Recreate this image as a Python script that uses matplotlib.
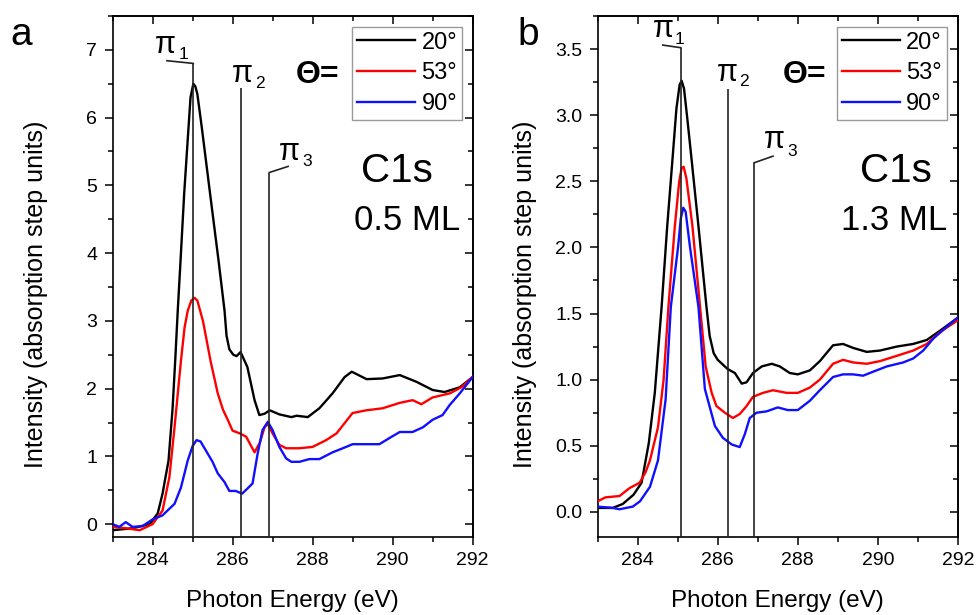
import matplotlib
matplotlib.use("Agg")
import matplotlib.pyplot as plt
from matplotlib.ticker import MultipleLocator

plt.rcParams['font.family'] = ['Liberation Sans', 'DejaVu Sans']

# ---------------- data: C1s NEXAFS, panel a (0.5 ML) ----------------
energy_a_20 = [283.0, 283.5, 283.93, 284.13, 284.25, 284.4, 284.5, 284.57, 284.63, 284.7,
               284.79, 284.9, 284.95, 285.02, 285.07, 285.12, 285.23, 285.44, 285.65, 285.8,
               285.85, 285.92, 286.02, 286.1, 286.2, 286.37, 286.55, 286.67, 286.8, 286.93,
               287.17, 287.47, 287.6, 287.88, 288.17, 288.5, 288.8, 288.98, 289.35, 289.75,
               290.18, 290.6, 291.0, 291.3, 291.68, 292.0]
int_a_20 = [-0.09, -0.06, 0.0, 0.16, 0.45, 0.94, 1.7, 2.45, 3.15, 3.89,
            4.87, 5.86, 6.3, 6.5, 6.46, 6.35, 5.86, 4.87, 3.89, 3.15,
            2.78, 2.58, 2.5, 2.48, 2.54, 2.32, 1.83, 1.61, 1.63, 1.68,
            1.62, 1.58, 1.6, 1.58, 1.71, 1.93, 2.17, 2.25, 2.14, 2.15,
            2.2, 2.1, 1.98, 1.95, 2.02, 2.17]

energy_a_53 = [283.0, 283.33, 283.68, 284.0, 284.25, 284.42, 284.55, 284.71, 284.8, 284.88,
               284.97, 285.05, 285.12, 285.26, 285.45, 285.63, 285.76, 285.88, 286.0, 286.18,
               286.34, 286.55, 286.68, 286.8, 286.88, 287.0, 287.17, 287.34, 287.67, 288.0,
               288.34, 288.6, 289.0, 289.34, 289.75, 290.18, 290.5, 290.72, 291.0, 291.43,
               291.72, 292.0]
int_a_53 = [-0.04, -0.06, -0.09, 0.0, 0.2, 0.69, 1.43, 2.41, 2.9, 3.15,
            3.3, 3.34, 3.3, 3.0, 2.41, 1.93, 1.69, 1.54, 1.38, 1.34,
            1.29, 1.06, 1.2, 1.43, 1.48, 1.34, 1.17, 1.12, 1.12, 1.14,
            1.24, 1.34, 1.64, 1.68, 1.71, 1.79, 1.83, 1.77, 1.87, 1.93,
            2.02, 2.17]

energy_a_90 = [283.0, 283.17, 283.33, 283.5, 283.75, 284.0, 284.25, 284.55, 284.71, 284.88,
               285.0, 285.1, 285.2, 285.38, 285.5, 285.63, 285.8, 285.92, 286.08, 286.24,
               286.38, 286.5, 286.63, 286.75, 286.88, 287.0, 287.17, 287.34, 287.47, 287.67,
               287.92, 288.17, 288.5, 288.84, 289.0, 289.34, 289.67, 289.92, 290.18, 290.5,
               290.76, 291.0, 291.25, 291.43, 291.68, 292.0]
int_a_90 = [0.0, -0.04, 0.03, -0.04, -0.03, 0.07, 0.13, 0.3, 0.54, 0.94,
            1.15, 1.24, 1.22, 1.04, 0.92, 0.75, 0.62, 0.49, 0.49, 0.45,
            0.53, 0.6, 1.05, 1.39, 1.51, 1.39, 1.14, 0.97, 0.92, 0.92,
            0.96, 0.96, 1.06, 1.14, 1.18, 1.18, 1.18, 1.27, 1.36, 1.36,
            1.43, 1.54, 1.61, 1.76, 1.93, 2.17]

# ---------------- data: C1s NEXAFS, panel b (1.3 ML) ----------------
energy_b_20 = [283.0, 283.38, 283.63, 283.9, 284.1, 284.28, 284.43, 284.6, 284.74, 284.87,
               284.97, 285.05, 285.1, 285.16, 285.25, 285.35, 285.52, 285.72, 285.8, 285.9,
               286.0, 286.25, 286.43, 286.6, 286.72, 286.88, 287.1, 287.35, 287.55, 287.8,
               288.0, 288.3, 288.55, 288.88, 289.13, 289.38, 289.72, 290.05, 290.47, 290.88,
               291.22, 291.55, 292.0]
int_b_20 = [0.03, 0.03, 0.06, 0.13, 0.22, 0.52, 0.9, 1.55, 2.16, 2.66,
            3.05, 3.23, 3.26, 3.2, 2.95, 2.66, 2.16, 1.55, 1.33, 1.2,
            1.15, 1.08, 1.05, 0.97, 0.98, 1.05, 1.1, 1.12, 1.1, 1.05,
            1.04, 1.07, 1.14, 1.26, 1.27, 1.24, 1.21, 1.22, 1.25, 1.27,
            1.3, 1.37, 1.47]

energy_b_53 = [283.0, 283.2, 283.55, 283.8, 284.05, 284.2, 284.31, 284.51, 284.65, 284.77,
               284.93, 285.04, 285.1, 285.15, 285.22, 285.37, 285.56, 285.7, 285.85, 285.97,
               286.18, 286.38, 286.55, 286.72, 286.88, 287.13, 287.38, 287.72, 288.0, 288.3,
               288.55, 288.88, 289.13, 289.38, 289.72, 290.05, 290.47, 290.88, 291.22, 291.55,
               292.0]
int_b_53 = [0.08, 0.11, 0.12, 0.18, 0.22, 0.3, 0.39, 0.64, 1.0, 1.55,
            2.16, 2.5, 2.6, 2.61, 2.52, 2.16, 1.55, 1.1, 0.9, 0.8,
            0.75, 0.71, 0.74, 0.8, 0.87, 0.9, 0.92, 0.9, 0.9, 0.94,
            1.0, 1.12, 1.15, 1.13, 1.12, 1.14, 1.18, 1.22, 1.27, 1.36,
            1.45]

energy_b_90 = [283.0, 283.38, 283.55, 283.88, 284.06, 284.31, 284.51, 284.7, 284.83, 285.01,
               285.08, 285.14, 285.2, 285.31, 285.52, 285.68, 285.93, 286.13, 286.35, 286.55,
               286.68, 286.8, 286.97, 287.22, 287.5, 287.75, 288.0, 288.3, 288.55, 288.88,
               289.13, 289.38, 289.63, 289.88, 290.22, 290.63, 290.88, 291.13, 291.38, 291.72,
               292.0]
int_b_90 = [0.04, 0.03, 0.02, 0.04, 0.08, 0.19, 0.39, 0.85, 1.55, 2.0,
            2.22, 2.3, 2.27, 2.0, 1.55, 0.93, 0.65, 0.56, 0.51, 0.49,
            0.59, 0.71, 0.75, 0.76, 0.79, 0.77, 0.77, 0.84, 0.92, 1.02,
            1.04, 1.04, 1.03, 1.06, 1.1, 1.13, 1.16, 1.22, 1.31, 1.4,
            1.47]

angle_labels = ["20°", "53°", "90°"]
curve_colors = ["black", "#ff0000", "#1010ff"]

# pi* resonance positions (eV) and marker line tops (intensity units)
pi_energy_a = [285.02, 286.22, 286.92]
pi_top_a = [6.80, 6.43, 5.19]
pi_energy_b = [285.08, 286.26, 286.91]
pi_top_b = [3.51, 3.20, 2.64]


def style_axes(ax, ymin, ymax, ymajor, yminor):
    ax.set_xlim(283, 292)
    ax.set_ylim(ymin, ymax)
    ax.xaxis.set_major_locator(MultipleLocator(2))
    ax.xaxis.set_minor_locator(MultipleLocator(1))
    ax.yaxis.set_major_locator(MultipleLocator(ymajor))
    ax.yaxis.set_minor_locator(MultipleLocator(yminor))
    for sp in ax.spines.values():
        sp.set_linewidth(1.2)
    ax.tick_params(which='both', direction='out', width=1.1, labelsize=14,
                   top=False, right=False, pad=5)
    ax.tick_params(which='major', length=6)
    ax.tick_params(which='minor', length=3.5)
    # mirrored inward ticks on the top and right axes
    sx = ax.secondary_xaxis('top')
    sx.xaxis.set_major_locator(MultipleLocator(2))
    sx.xaxis.set_minor_locator(MultipleLocator(1))
    sx.tick_params(which='both', direction='in', width=1.1, labeltop=False)
    sx.tick_params(which='major', length=6)
    sx.tick_params(which='minor', length=3.5)
    sx.spines['top'].set_linewidth(1.2)
    sy = ax.secondary_yaxis('right')
    sy.yaxis.set_major_locator(MultipleLocator(ymajor))
    sy.yaxis.set_minor_locator(MultipleLocator(yminor))
    sy.tick_params(which='both', direction='in', width=1.1, labelright=False)
    sy.tick_params(which='major', length=6)
    sy.tick_params(which='minor', length=3.5)
    sy.spines['right'].set_linewidth(1.2)
    ax.set_xlabel("Photon Energy (eV)", fontsize=17.5)
    ax.set_ylabel("Intensity (absorption step units)", fontsize=18)


fig = plt.figure(figsize=(9.76, 6.15), dpi=100)
ax_a = fig.add_axes([0.1153, 0.1268, 0.3689, 0.8472])
ax_b = fig.add_axes([0.6122, 0.1268, 0.3694, 0.8472])

style_axes(ax_a, -0.19, 7.5, 1, 0.5)
style_axes(ax_b, -0.19, 3.75, 0.5, 0.25)
ax_a.xaxis.set_label_coords(0.5, -0.102)
ax_b.xaxis.set_label_coords(0.5, -0.102)
ax_a.yaxis.set_label_coords(-0.179, 0.465)
ax_b.yaxis.set_label_coords(-0.168, 0.465)

series_a = [(energy_a_20, int_a_20), (energy_a_53, int_a_53), (energy_a_90, int_a_90)]
series_b = [(energy_b_20, int_b_20), (energy_b_53, int_b_53), (energy_b_90, int_b_90)]

for ax, series in ((ax_a, series_a), (ax_b, series_b)):
    for (e, i), c, lab in zip(series, curve_colors, angle_labels):
        ax.plot(e, i, color=c, lw=1.7, label=lab, zorder=3,
                solid_joinstyle='round')


def draw_markers(ax, energies, tops, ymin, lead1, lead3, txt_pos):
    """Vertical pi* marker lines, leader ticks and their labels."""
    for e, t in zip(energies, tops):
        ax.plot([e, e], [ymin, t], color='#222222', lw=1.2, zorder=4, solid_capstyle='butt')
    ax.plot([energies[0], lead1[0]], [tops[0], lead1[1]], color='#222222', lw=1.2, zorder=4)
    ax.plot([energies[2], lead3[0]], [tops[2], lead3[1]], color='#222222', lw=1.2, zorder=4)
    for k, ((px, py), (sx, sy)) in enumerate(txt_pos):
        ax.text(px, py, "π", fontsize=22, va='baseline', ha='left', zorder=5)
        ax.text(sx, sy, str(k + 1), fontsize=12.5, va='baseline', ha='left', zorder=5)


draw_markers(ax_a, pi_energy_a, pi_top_a, -0.19, (284.36, 6.84), (287.39, 5.28),
             [((284.06, 6.95), (284.64, 6.87)),
              ((285.99, 6.52), (286.56, 6.44)),
              ((287.17, 5.37), (287.74, 5.28))])
draw_markers(ax_b, pi_energy_b, pi_top_b, -0.19, (284.63, 3.53), (287.38, 2.69),
             [((284.38, 3.59), (284.93, 3.54)),
              ((285.98, 3.26), (286.53, 3.22)),
              ((287.16, 2.75), (287.73, 2.69))])

# legends, angle symbol and edge/coverage labels
panel_text = [(ax_a, "0.5 ML", 0.970, 0.89, 0.965, 0.508),
              (ax_b, "1.3 ML", 0.968, 0.927, 0.971, 0.514)]
for ax, cov, leg_x, c1s_x, cov_x, theta_x in panel_text:
    leg = ax.legend(loc='upper right', bbox_to_anchor=(leg_x, 0.979), fontsize=17,
                    frameon=True, fancybox=False, framealpha=1, edgecolor='#9a9a9a',
                    handlelength=2.45, handletextpad=0.28, labelspacing=0.37,
                    borderpad=0.2, borderaxespad=0.0)
    leg.get_frame().set_linewidth(1.0)
    for line in leg.get_lines():
        line.set_linewidth(1.7)
    ax.text(c1s_x, 0.681, "C1s", transform=ax.transAxes, fontsize=29,
            ha='right', va='baseline')
    ax.text(cov_x, 0.589, cov, transform=ax.transAxes, fontsize=25,
            ha='right', va='baseline')
    ax.text(theta_x, 0.871, "Θ=", transform=ax.transAxes, fontsize=23,
            fontweight='bold', ha='left', va='baseline')

fig.text(0.0102, 0.927, "a", fontsize=28, ha='left', va='baseline')
fig.text(0.5297, 0.927, "b", fontsize=28, ha='left', va='baseline')

fig.savefig("out.png", dpi=100)
